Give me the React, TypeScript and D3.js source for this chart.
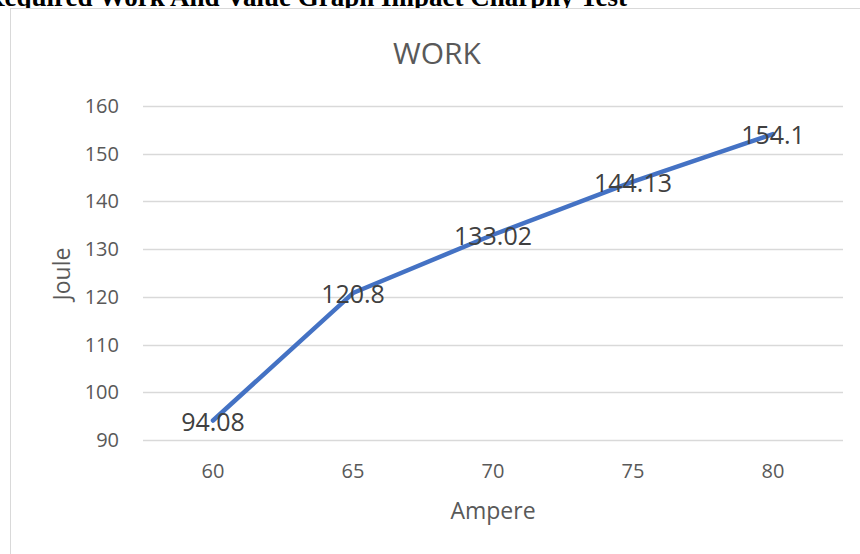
import React, { useEffect, useRef } from "react";
import * as d3 from "d3";

const amperes = ["60", "65", "70", "75", "80"];
const work = [94.08, 120.8, 133.02, 144.13, 154.1];
const workLabels = ["94.08", "120.8", "133.02", "144.13", "154.1"];
const yTicks = [90, 100, 110, 120, 130, 140, 150, 160];

const W = 860;
const H = 554;

export default function App() {
  const ref = useRef<SVGSVGElement | null>(null);

  useEffect(() => {
    const svg = d3.select(ref.current);
    svg.selectAll("*").remove();

    const x = d3.scalePoint<string>().domain(amperes).range([143, 843]).padding(0.5);
    const y = d3.scaleLinear().domain([90, 160]).range([440, 106]);

    // caption above the chart (cut off at the top, as in the source page)
    svg.append("text")
      .attr("x", 627)
      .attr("y", 6)
      .attr("text-anchor", "end")
      .attr("font-family", "'Liberation Serif', serif")
      .attr("font-weight", "bold")
      .attr("font-size", 27)
      .attr("fill", "#000")
      .text("Required Work And Value Graph Impact Charphy Test");

    // chart frame
    svg.append("rect")
      .attr("x", 10.5)
      .attr("y", 8.5)
      .attr("width", W)
      .attr("height", H)
      .attr("fill", "#fff")
      .attr("stroke", "#d9d9d9")
      .attr("stroke-width", 1);

    svg.append("text")
      .attr("x", 437)
      .attr("y", 64)
      .attr("text-anchor", "middle")
      .attr("font-family", "'Open Sans', sans-serif")
      .attr("font-size", 30)
      .attr("fill", "#595959")
      .text("WORK");

    // gridlines
    svg.append("g")
      .selectAll("line")
      .data(yTicks)
      .join("line")
      .attr("x1", 143)
      .attr("x2", 843)
      .attr("y1", d => Math.round(y(d)) + 0.5)
      .attr("y2", d => Math.round(y(d)) + 0.5)
      .attr("stroke", "#d9d9d9")
      .attr("stroke-width", 1.5);

    // y tick labels
    svg.append("g")
      .selectAll("text")
      .data(yTicks)
      .join("text")
      .attr("x", 119)
      .attr("y", d => y(d) + 7)
      .attr("text-anchor", "end")
      .attr("font-family", "'Open Sans', sans-serif")
      .attr("font-size", 20)
      .attr("fill", "#595959")
      .text(d => d);

    // x tick labels
    svg.append("g")
      .selectAll("text")
      .data(amperes)
      .join("text")
      .attr("x", d => x(d)!)
      .attr("y", 478)
      .attr("text-anchor", "middle")
      .attr("font-family", "'Open Sans', sans-serif")
      .attr("font-size", 20)
      .attr("fill", "#595959")
      .text(d => d);

    svg.append("text")
      .attr("x", 493)
      .attr("y", 519)
      .attr("text-anchor", "middle")
      .attr("font-family", "'Open Sans', sans-serif")
      .attr("font-size", 23)
      .attr("fill", "#595959")
      .text("Ampere");

    svg.append("text")
      .attr("transform", "translate(70,274) rotate(-90)")
      .attr("text-anchor", "middle")
      .attr("font-family", "'Open Sans', sans-serif")
      .attr("font-size", 23)
      .attr("fill", "#595959")
      .text("Joule");

    const line = d3.line<number>()
      .x((d, i) => x(amperes[i])!)
      .y(d => y(d));

    svg.append("path")
      .attr("d", line(work))
      .attr("fill", "none")
      .attr("stroke", "#4472c4")
      .attr("stroke-width", 4.5)
      .attr("stroke-linecap", "round")
      .attr("stroke-linejoin", "round");

    svg.append("g")
      .selectAll("text")
      .data(work)
      .join("text")
      .attr("x", (d, i) => x(amperes[i])!)
      .attr("y", d => y(d) + 10)
      .attr("text-anchor", "middle")
      .attr("font-family", "'Open Sans', sans-serif")
      .attr("font-size", 25)
      .attr("fill", "#404040")
      .text((d, i) => workLabels[i]);
  }, []);

  return (
    <svg
      ref={ref}
      width={W}
      height={H}
      style={{ position: "absolute", left: 0, top: 0, background: "#fff" }}
    />
  );
}
